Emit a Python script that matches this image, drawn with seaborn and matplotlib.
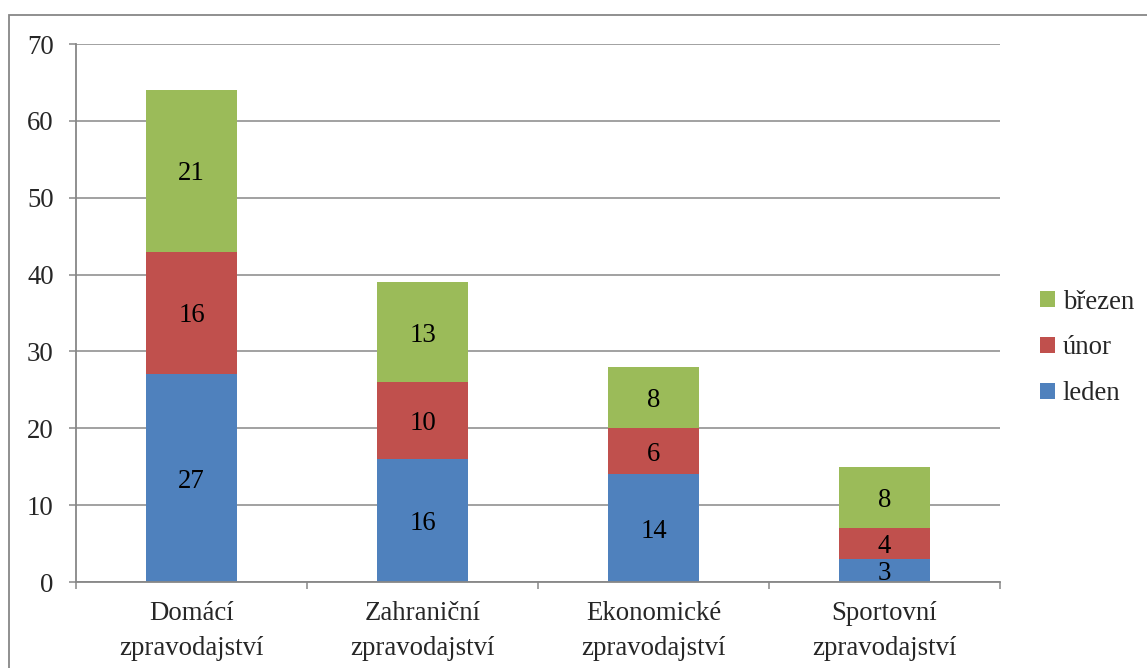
import numpy as np
import pandas as pd
import matplotlib
matplotlib.use("Agg")
import matplotlib.pyplot as plt
import seaborn as sns
from matplotlib.patches import Patch, Rectangle

# data
kategorie = ["Domácí\nzpravodajství", "Zahraniční\nzpravodajství",
             "Ekonomické\nzpravodajství", "Sportovní\nzpravodajství"]
leden = [27, 16, 14, 3]
unor = [16, 10, 6, 4]
brezen = [21, 13, 8, 8]
serie = ["leden", "únor", "březen"]
barvy = ["#4F81BD", "#C0504D", "#9BBB59"]
y_ticks = [0, 10, 20, 30, 40, 50, 60, 70]

FS = 19.3

sns.set_style("white")
plt.rcParams["font.family"] = ["Liberation Serif", "DejaVu Serif"]
plt.rcParams["font.size"] = FS

df = pd.DataFrame({"kat": kategorie, "leden": leden, "únor": unor, "březen": brezen})
cum = df[serie].cumsum(axis=1)

fig = plt.figure(figsize=(11.47, 6.68), dpi=100)
ax = fig.add_axes([76 / 1147, 1 - 582 / 668, (1000 - 76) / 1147, (582 - 44) / 668])

# outer chart frame
fig.patches.append(Rectangle((9 / 1147, -0.2), 1.2, 0.2 + (1 - 15 / 668),
                             transform=fig.transFigure, fill=False,
                             edgecolor="#878787", linewidth=1.3, zorder=0))

ax.set_axisbelow(True)
ax.yaxis.grid(True, color="#878787", linewidth=1.1)

# stacked bars: draw cumulative totals from the top down
for s, c in zip(reversed(serie), reversed(barvy)):
    sns.barplot(x=df["kat"], y=cum[s], color=c, width=0.39,
                saturation=1, linewidth=0, ax=ax, zorder=2)

# segment labels
for s, base in zip(serie, [None, "leden", "únor"]):
    for i in range(len(kategorie)):
        lo = 0 if base is None else cum[base][i]
        hi = cum[s][i]
        ax.text(i, (lo + hi) / 2, str(df[s][i]), ha="center",
                va="center_baseline", fontsize=FS, color="black", zorder=3)

ax.set_xlim(-0.5, 3.5)
ax.set_ylim(0, 70)
ax.set_yticks(y_ticks)
ax.set_xlabel("")
ax.set_ylabel("")

for sp in ["top", "right"]:
    ax.spines[sp].set_visible(False)
for sp in ["left", "bottom"]:
    ax.spines[sp].set_color("#878787")
    ax.spines[sp].set_linewidth(1.3)

ax.tick_params(axis="y", length=5, width=1.1, color="#878787", pad=11, left=True,
               labelsize=FS)
ax.tick_params(axis="x", which="major", length=0, pad=13.5, labelsize=FS)
ax.set_xticks([-0.5, 0.5, 1.5, 2.5, 3.5], minor=True)
ax.tick_params(axis="x", which="minor", length=5, width=1.1, color="#878787",
               bottom=True)
for lab in ax.get_xticklabels():
    lab.set_linespacing(1.55)

handles = [Patch(facecolor=c, edgecolor="none") for c in reversed(barvy)]
fig.legend(handles, list(reversed(serie)), loc="center left",
           bbox_to_anchor=(1016 / 1147, 1 - 348 / 668), frameon=False,
           fontsize=FS, handlelength=0.55, handleheight=0.55,
           handletextpad=0.3, labelspacing=0.78)

fig.savefig("out.png", dpi=100)
